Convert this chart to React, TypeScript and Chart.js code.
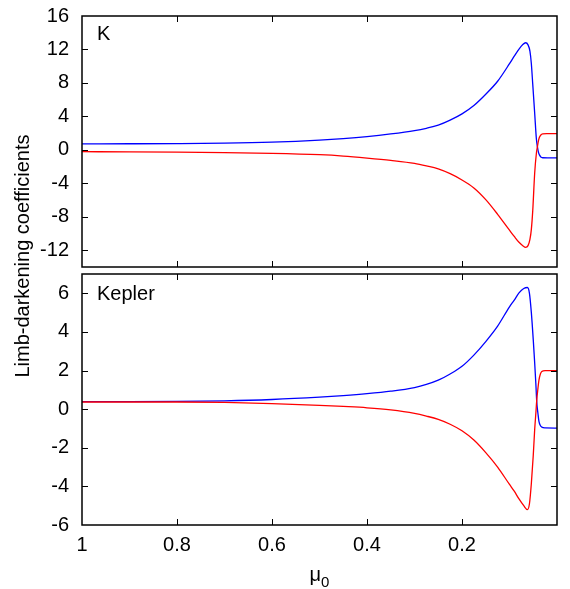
import React, { useEffect, useRef } from 'react';
import { Chart, registerables } from 'chart.js';

Chart.register(...registerables);

// ---- Data ----
// Top panel: K band
const MU_K = [1.0, 0.9, 0.8, 0.7, 0.6, 0.5, 0.45, 0.4, 0.35, 0.3, 0.275, 0.25, 0.225, 0.2, 0.175, 0.15, 0.125, 0.1, 0.09, 0.08, 0.072, 0.066, 0.061, 0.057, 0.054, 0.051, 0.047, 0.0434, 0.0413, 0.039, 0.037, 0.034, 0.03, 0.02, 0.0];
const K_BLUE = [0.72, 0.73, 0.75, 0.8, 0.92, 1.16, 1.34, 1.58, 1.9, 2.3, 2.58, 2.95, 3.55, 4.3, 5.3, 6.65, 8.2, 10.3, 11.2, 12.05, 12.6, 12.8, 12.55, 11.8, 10.3, 7.8, 4.4, 1.3, 0.4, -0.3, -0.6, -0.85, -0.94, -0.96, -0.96];
const K_RED = [-0.22, -0.24, -0.27, -0.32, -0.41, -0.58, -0.74, -0.98, -1.26, -1.62, -1.92, -2.28, -2.85, -3.6, -4.55, -5.95, -7.7, -9.6, -10.35, -11.05, -11.45, -11.65, -11.45, -10.7, -9.5, -7.2, -2.8, -0.4, 0.35, 1.1, 1.5, 1.78, 1.9, 1.94, 1.95];

// Bottom panel: Kepler
const MU_KEP = [1.0, 0.9, 0.8, 0.7, 0.6, 0.5, 0.45, 0.4, 0.35, 0.3, 0.275, 0.25, 0.225, 0.2, 0.175, 0.15, 0.125, 0.1, 0.09, 0.08, 0.07, 0.0623, 0.058, 0.054, 0.05, 0.047, 0.0445, 0.0427, 0.04, 0.038, 0.035, 0.032, 0.025, 0.0];
const KEP_BLUE = [0.39, 0.39, 0.4, 0.43, 0.5, 0.62, 0.7, 0.8, 0.93, 1.12, 1.28, 1.5, 1.82, 2.22, 2.8, 3.5, 4.3, 5.3, 5.65, 6.02, 6.25, 6.3, 6.0, 5.0, 3.6, 2.4, 1.3, 0.4, -0.25, -0.63, -0.85, -0.93, -0.97, -0.98];
const KEP_RED = [0.37, 0.37, 0.37, 0.35, 0.29, 0.2, 0.14, 0.07, -0.04, -0.22, -0.36, -0.53, -0.78, -1.12, -1.6, -2.25, -3.0, -3.9, -4.25, -4.65, -5.0, -5.2, -4.9, -3.85, -2.4, -1.06, -0.2, 0.45, 1.1, 1.5, 1.82, 1.95, 2.0, 2.0];

// Tick labels
const X_TICK_LABELS = [1, 0.8, 0.6, 0.4, 0.2];
const X_TICK_MARKS = [0.8, 0.6, 0.4, 0.2];
const K_Y_LABELS = [16, 12, 8, 4, 0, -4, -8, -12];
const K_Y_MARKS = [12, 8, 4, 0, -4, -8, -12];
const KEP_Y_LABELS = [6, 4, 2, 0, -2, -4, -6];
const KEP_Y_MARKS = [6, 4, 2, 0, -2, -4];

const FONT = '"Liberation Sans", Arial, sans-serif';
const BLUE = '#0000ff';
const RED = '#ff0000';

const frameTicks = {
  id: 'frameTicks',
  afterDraw(chart: any, _args: any, opts: any) {
    const { ctx, chartArea: a, scales } = chart;
    ctx.save();
    ctx.strokeStyle = '#000';
    ctx.lineWidth = 1;
    const len = 6;
    ctx.beginPath();
    (opts.yTicks || []).forEach((v: number) => {
      const p = Math.round(scales.y.getPixelForValue(v)) + 0.5;
      ctx.moveTo(a.left, p);
      ctx.lineTo(a.left + len, p);
      ctx.moveTo(a.right, p);
      ctx.lineTo(a.right - len, p);
    });
    (opts.xTicks || []).forEach((v: number) => {
      const p = Math.round(scales.x.getPixelForValue(v)) + 0.5;
      ctx.moveTo(p, a.bottom);
      ctx.lineTo(p, a.bottom - len);
      ctx.moveTo(p, a.top);
      ctx.lineTo(p, a.top + len);
    });
    ctx.stroke();
    ctx.lineWidth = 1.5;
    ctx.strokeRect(a.left, a.top, a.right - a.left, a.bottom - a.top);
    ctx.fillStyle = '#000';
    ctx.font = `20px ${FONT}`;
    ctx.textBaseline = 'alphabetic';
    ctx.textAlign = 'left';
    ctx.fillText(opts.label, a.left + 15, a.top + opts.labelDy);
    if (opts.xTitle) {
      // x-axis title: μ with subscript 0
      ctx.font = `20px ${FONT}`;
      const w1 = ctx.measureText(opts.xTitle).width;
      ctx.font = `15px ${FONT}`;
      const w2 = ctx.measureText(opts.xSub).width;
      const cx = (a.left + a.right) / 2;
      const x0 = cx - (w1 + w2) / 2;
      const base = a.bottom + 56;
      ctx.font = `20px ${FONT}`;
      ctx.fillText(opts.xTitle, x0, base);
      ctx.font = `15px ${FONT}`;
      ctx.fillText(opts.xSub, x0 + w1, base + 6);
    }
    ctx.restore();
  },
};

function makeData(mu: number[], ys: number[]) {
  return mu.map((m, i) => ({ x: m, y: ys[i] }));
}

type PanelProps = {
  mu: number[];
  blue: number[];
  red: number[];
  yMin: number;
  yMax: number;
  yLabels: number[];
  yMarks: number[];
  label: string;
  labelDy: number;
  showX: boolean;
  width: number;
  height: number;
  padTop: number;
  padBottom: number;
  xAxisHeight: number;
};

function Panel(p: PanelProps) {
  const ref = useRef<HTMLCanvasElement | null>(null);
  useEffect(() => {
    if (!ref.current) return;
    const chart = new Chart(ref.current, {
      type: 'scatter',
      data: {
        datasets: [
          {
            data: makeData(p.mu, p.red),
            showLine: true,
            borderColor: RED,
            backgroundColor: RED,
            borderWidth: 1.3,
            pointRadius: 0,
            cubicInterpolationMode: 'monotone',
          },
          {
            data: makeData(p.mu, p.blue),
            showLine: true,
            borderColor: BLUE,
            backgroundColor: BLUE,
            borderWidth: 1.3,
            pointRadius: 0,
            cubicInterpolationMode: 'monotone',
          },
        ],
      },
      options: {
        responsive: false,
        animation: false,
        layout: { padding: { left: 0, right: 13, top: p.padTop, bottom: p.padBottom } },
        plugins: {
          legend: { display: false },
          tooltip: { enabled: false },
          frameTicks: {
            yTicks: p.yMarks,
            xTicks: X_TICK_MARKS,
            label: p.label,
            labelDy: p.labelDy,
            xTitle: p.showX ? 'μ' : '',
            xSub: '0',
          },
        } as any,
        scales: {
          x: {
            type: 'linear',
            min: 0,
            max: 1,
            reverse: true,
            display: p.showX,
            grid: { display: false, drawTicks: false },
            border: { display: false },
            ticks: {
              autoSkip: false,
              color: '#000',
              font: { size: 20, family: FONT },
              padding: 8,
              maxRotation: 0,
              callback: (v: any) => String(Number(Number(v).toFixed(2))),
            },
            afterBuildTicks: (s: any) => {
              s.ticks = X_TICK_LABELS.map((v) => ({ value: v }));
            },
            title: { display: false },
            afterFit: (s: any) => {
              s.paddingLeft = 0;
              s.paddingRight = 0;
              if (p.showX) s.height = p.xAxisHeight;
            },
          },
          y: {
            type: 'linear',
            min: p.yMin,
            max: p.yMax,
            grid: { display: false, drawTicks: false },
            border: { display: false },
            ticks: {
              autoSkip: false,
              color: '#000',
              font: { size: 20, family: FONT },
              padding: 13,
              callback: (v: any) => String(Number(v)),
            },
            afterBuildTicks: (s: any) => {
              s.ticks = p.yLabels.map((v) => ({ value: v }));
            },
            afterFit: (s: any) => {
              s.width = 82;
              s.paddingTop = 0;
              s.paddingBottom = 0;
            },
          },
        },
      } as any,
      plugins: [frameTicks],
    });
    return () => chart.destroy();
  }, []);
  return (
    <canvas
      ref={ref}
      width={p.width}
      height={p.height}
      style={{ display: 'block', width: p.width, height: p.height }}
    />
  );
}

export default function App() {
  return (
    <div
      style={{
        position: 'fixed',
        left: 0,
        top: 0,
        width: 570,
        height: 589,
        background: '#fff',
        fontFamily: FONT,
      }}
    >
      <div style={{ position: 'absolute', left: 0, top: 0 }}>
        <Panel
          mu={MU_K}
          blue={K_BLUE}
          red={K_RED}
          yMin={-14}
          yMax={16}
          yLabels={K_Y_LABELS}
          yMarks={K_Y_MARKS}
          label="K"
          labelDy={24}
          showX={false}
          width={570}
          height={270}
          padTop={16}
          padBottom={3}
          xAxisHeight={0}
        />
      </div>
      <div style={{ position: 'absolute', left: 0, top: 270 }}>
        <Panel
          mu={MU_KEP}
          blue={KEP_BLUE}
          red={KEP_RED}
          yMin={-6}
          yMax={7}
          yLabels={KEP_Y_LABELS}
          yMarks={KEP_Y_MARKS}
          label="Kepler"
          labelDy={26}
          showX={true}
          width={570}
          height={319}
          padTop={4}
          padBottom={0}
          xAxisHeight={64}
        />
      </div>
      <div
        style={{
          position: 'absolute',
          left: 22 - 200,
          top: 256 - 12,
          width: 400,
          height: 24,
          lineHeight: '24px',
          textAlign: 'center',
          fontSize: 20,
          color: '#000',
          transform: 'rotate(-90deg)',
          whiteSpace: 'nowrap',
        }}
      >
        Limb-darkening coefficients
      </div>
    </div>
  );
}
